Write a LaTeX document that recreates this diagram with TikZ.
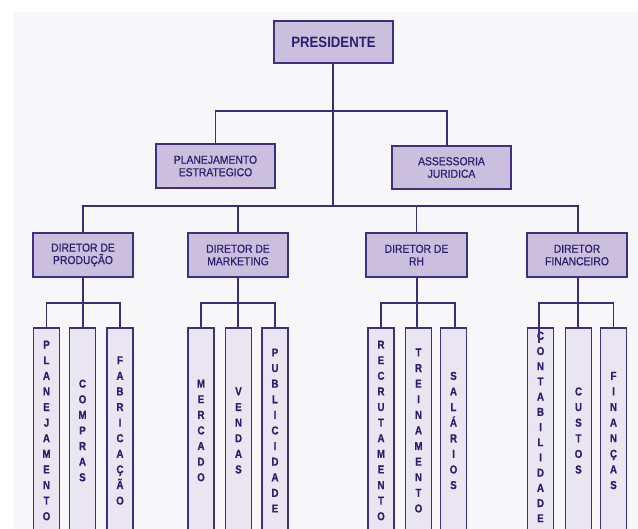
\documentclass[tikz,border=0pt]{standalone}
\usepackage{fontspec}
\setmainfont{Liberation Sans}
\newfontfamily\nf[FakeStretch=0.9,FakeBold=0.8]{Liberation Sans}
\newfontfamily\pf[FakeStretch=0.88]{Liberation Sans}
\newfontfamily\vf[FakeStretch=0.85,FakeBold=0.6]{Liberation Sans}
\definecolor{bgc}{HTML}{F7F7FA}
\definecolor{topfill}{HTML}{CAC0DE}
\definecolor{subfill}{HTML}{E9E5F1}
\definecolor{bordc}{HTML}{3E2F80}
\definecolor{txtc}{HTML}{2A206C}
\definecolor{linec}{HTML}{3C2C7C}
\tikzset{
  topbox/.style={draw=bordc, line width=1.6pt, fill=topfill, text=txtc, inner sep=0pt, align=center,
    font=\nf\fontsize{11.5}{12.5}\selectfont},
  presbox/.style={topbox, font=\pf\bfseries\fontsize{15}{16}\selectfont},
  subbox/.style={draw=bordc, line width=1.6pt, fill=subfill, text=txtc, inner sep=0pt, align=center,
    minimum width=26pt, minimum height=205pt, font=\vf\bfseries\fontsize{11.5}{15.6}\selectfont},
  conn/.style={draw=linec, line width=1.6pt}
}
\begin{document}
\begin{tikzpicture}[x=1pt,y=-1pt]
\useasboundingbox (0,0) rectangle (638,529);
\clip (0,0) rectangle (638,529);
\fill[bgc] (14,12) rectangle (638,529);
% bus coordinates
\coordinate (b1) at (333,111);
\coordinate (b2) at (333,206);
\coordinate (pb) at (83,303);
\coordinate (mb) at (238,303);
\coordinate (rb) at (417,303);
\coordinate (fb) at (578,303);
\coordinate (assc) at (447,146);
\coordinate (presbot) at (333,63);
% connectors
\draw[conn] (presbot) -- (b2);
\draw[conn] (215.5,144) |- (b1) -| (assc);
\draw[conn] (83,233) |- (b2) -| (578,233);
\draw[conn] (238,233) -- (238,206);
\draw[conn] (416.5,233) -- (416.5,206);
\draw[conn] (83,277) -- (83,328);
\draw[conn] (46.5,328) |- (pb) -| (120,328);
\draw[conn] (238,277) -- (238,328);
\draw[conn] (201,328) |- (mb) -| (275,328);
\draw[conn] (417,277) -- (417,328);
\draw[conn] (381,328) |- (rb) -| (455,328);
\draw[conn] (578,277) -- (578,328);
\draw[conn] (539,328) |- (fb) -| (613.5,328);
% nodes
\node[presbox, minimum width=119pt, minimum height=42pt] (pres) at (333.5,42) {PRESIDENTE};
\node[topbox, minimum width=119pt, minimum height=44pt] (plan) at (215.5,166) {PLANEJAMENTO\\ESTRATEGICO};
\node[topbox, minimum width=119pt, minimum height=43pt] (ass) at (451.5,167.5) {ASSESSORIA\\JURIDICA};
\node[topbox, minimum width=100pt, minimum height=44pt] (prod) at (83,255) {DIRETOR DE\\PRODUÇÃO};
\node[topbox, minimum width=100pt, minimum height=44pt] (mkt) at (238,255) {DIRETOR DE\\MARKETING};
\node[topbox, minimum width=101pt, minimum height=44pt] (rh) at (416.5,255) {DIRETOR DE\\RH};
\node[topbox, minimum width=100pt, minimum height=44pt] (fin) at (577,255) {DIRETOR\\FINANCEIRO};
% sub boxes
\node[subbox] (s11) at (46.5,430.5) {P\\L\\A\\N\\E\\J\\A\\M\\E\\N\\T\\O};
\node[subbox] (s12) at (82.5,430.5) {C\\O\\M\\P\\R\\A\\S};
\node[subbox] (s13) at (120,430.5) {F\\A\\B\\R\\I\\C\\A\\Ç\\Ã\\O};
\node[subbox] (s21) at (201,430.5) {M\\E\\R\\C\\A\\D\\O};
\node[subbox] (s22) at (238.5,430.5) {V\\E\\N\\D\\A\\S};
\node[subbox] (s23) at (275,430.5) {P\\U\\B\\L\\I\\C\\I\\D\\A\\D\\E};
\node[subbox] (s31) at (381,430.5) {R\\E\\C\\R\\U\\T\\A\\M\\E\\N\\T\\O};
\node[subbox] (s32) at (418.5,430.5) {T\\R\\E\\I\\N\\A\\M\\E\\N\\T\\O};
\node[subbox] (s33) at (453.5,430.5) {S\\A\\L\\Á\\R\\I\\O\\S};
\node[subbox] (s41) at (540.5,430.5) {};
\node[text=txtc, inner sep=0pt, align=center, font=\vf\bfseries\fontsize{11.5}{15.2}\selectfont]
  (t41) at (540.5,427) {C\\O\\N\\T\\A\\B\\I\\L\\I\\D\\A\\D\\E};
\node[subbox] (s42) at (578.5,430.5) {C\\U\\S\\T\\O\\S};
\node[subbox] (s43) at (613.5,430.5) {F\\I\\N\\A\\N\\Ç\\A\\S};
% bus line overlapping into Contabilidade box
\draw[conn] (539,303) -- (539,343);
\end{tikzpicture}
\end{document}
